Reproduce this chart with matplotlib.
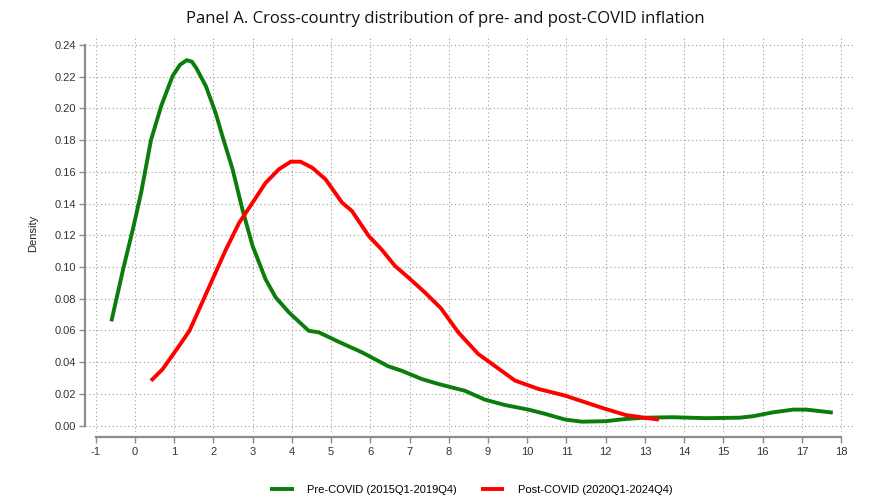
import numpy as np
import matplotlib
matplotlib.use("Agg")
import matplotlib.pyplot as plt

# Pre-COVID density (2015Q1-2019Q4)
pre_x = [-0.60, -0.30, -0.05, 0.16, 0.41, 0.67, 0.96, 1.15, 1.32, 1.45, 1.56, 1.81,
         2.06, 2.23, 2.49, 2.74, 3.00, 3.33, 3.59, 3.93, 4.43, 4.69, 5.19, 5.79,
         6.46, 6.80, 7.31, 7.73, 8.41, 8.92, 9.43, 10.03, 10.46, 10.97, 11.40,
         12.00, 12.51, 13.02, 13.70, 14.56, 15.41, 15.75, 16.27, 16.78, 17.12, 17.79]
pre_y = [0.0657, 0.0986, 0.124, 0.147, 0.180, 0.2015, 0.2204, 0.2275, 0.2304, 0.2295,
         0.2256, 0.214, 0.197, 0.1826, 0.1616, 0.1364, 0.1133, 0.0923, 0.0808, 0.0713,
         0.0598, 0.0588, 0.0529, 0.0462, 0.0374, 0.0346, 0.0294, 0.0263, 0.0220, 0.0164,
         0.0130, 0.0101, 0.0074, 0.0038, 0.0025, 0.0028, 0.0042, 0.0050, 0.0053, 0.0047,
         0.0050, 0.0059, 0.0084, 0.0101, 0.0101, 0.0082]

# Post-COVID density (2020Q1-2024Q4)
post_x = [0.41, 0.71, 1.13, 1.39, 1.64, 1.98, 2.32, 2.66, 3.00, 3.33, 3.67, 3.97,
          4.22, 4.52, 4.86, 5.28, 5.53, 5.96, 6.29, 6.63, 6.97, 7.39, 7.80, 8.24,
          8.75, 9.22, 9.69, 10.29, 10.97, 11.48, 12.00, 12.51, 13.02, 13.36]
post_y = [0.0283, 0.0357, 0.0504, 0.0598, 0.0735, 0.0923, 0.111, 0.128, 0.1406, 0.153,
          0.1616, 0.1664, 0.1664, 0.1626, 0.1553, 0.1406, 0.1354, 0.1196, 0.111, 0.1007,
          0.0934, 0.0840, 0.0740, 0.0589, 0.0452, 0.0368, 0.0284, 0.0231, 0.0189, 0.0147,
          0.0105, 0.0067, 0.0049, 0.0038]

x_ticks = list(range(-1, 19))
y_ticks = [round(0.02 * i, 2) for i in range(13)]

plt.rcParams["font.family"] = ["Liberation Sans", "DejaVu Sans"]
plt.rcParams["font.size"] = 8
grey = "#8c8c8c"

fig = plt.figure(figsize=(8.91, 5.03), dpi=100)
ax = fig.add_axes([0.0954, 0.1412, 0.8642, 0.7893])

ax.plot(pre_x, pre_y, color="#0a7d0a", lw=2.8, solid_capstyle="butt",
        label="Pre-COVID (2015Q1-2019Q4)")
ax.plot(post_x, post_y, color="#ff0000", lw=2.8, solid_capstyle="butt",
        label="Post-COVID (2020Q1-2024Q4)")

ax.set_xlim(-1.272, 18.356)
ax.set_ylim(-0.004, 0.2463)
ax.set_xticks(x_ticks)
ax.set_yticks(y_ticks)
ax.set_xticklabels([str(t) for t in x_ticks])
ax.set_yticklabels(["%.2f" % t for t in y_ticks])

ax.grid(True, linestyle=(0, (1, 2.5)), color="#9a9a9a", lw=0.8)
ax.set_axisbelow(True)

for s in ["top", "right"]:
    ax.spines[s].set_visible(False)
ax.spines["left"].set_bounds(0, 0.24)
ax.spines["bottom"].set_bounds(-1, 18)
ax.spines["bottom"].set_position(("outward", 3.4))
for s in ["left", "bottom"]:
    ax.spines[s].set_color(grey)
    ax.spines[s].set_linewidth(1.6)
ax.tick_params(axis="both", colors=grey, length=4.5, width=1.0,
               labelcolor="#333333", labelsize=8)
ax.tick_params(axis="y", pad=2)
ax.tick_params(axis="x", pad=3)

ax.set_ylabel("Density", fontsize=8, color="#222222")
ax.yaxis.set_label_coords(-0.061, 0.5)

fig.suptitle("Panel A. Cross-country distribution of pre- and post-COVID inflation",
             x=0.5, y=0.978, fontsize=12, family=["Open Sans", "DejaVu Sans"], color="#111111")

fig.legend(loc="center", bbox_to_anchor=(0.529, 0.026), ncol=2, frameon=False,
           prop={"size": 8}, handlelength=2.1, columnspacing=2.2, handletextpad=1.2)

fig.savefig("out.png", dpi=100)
